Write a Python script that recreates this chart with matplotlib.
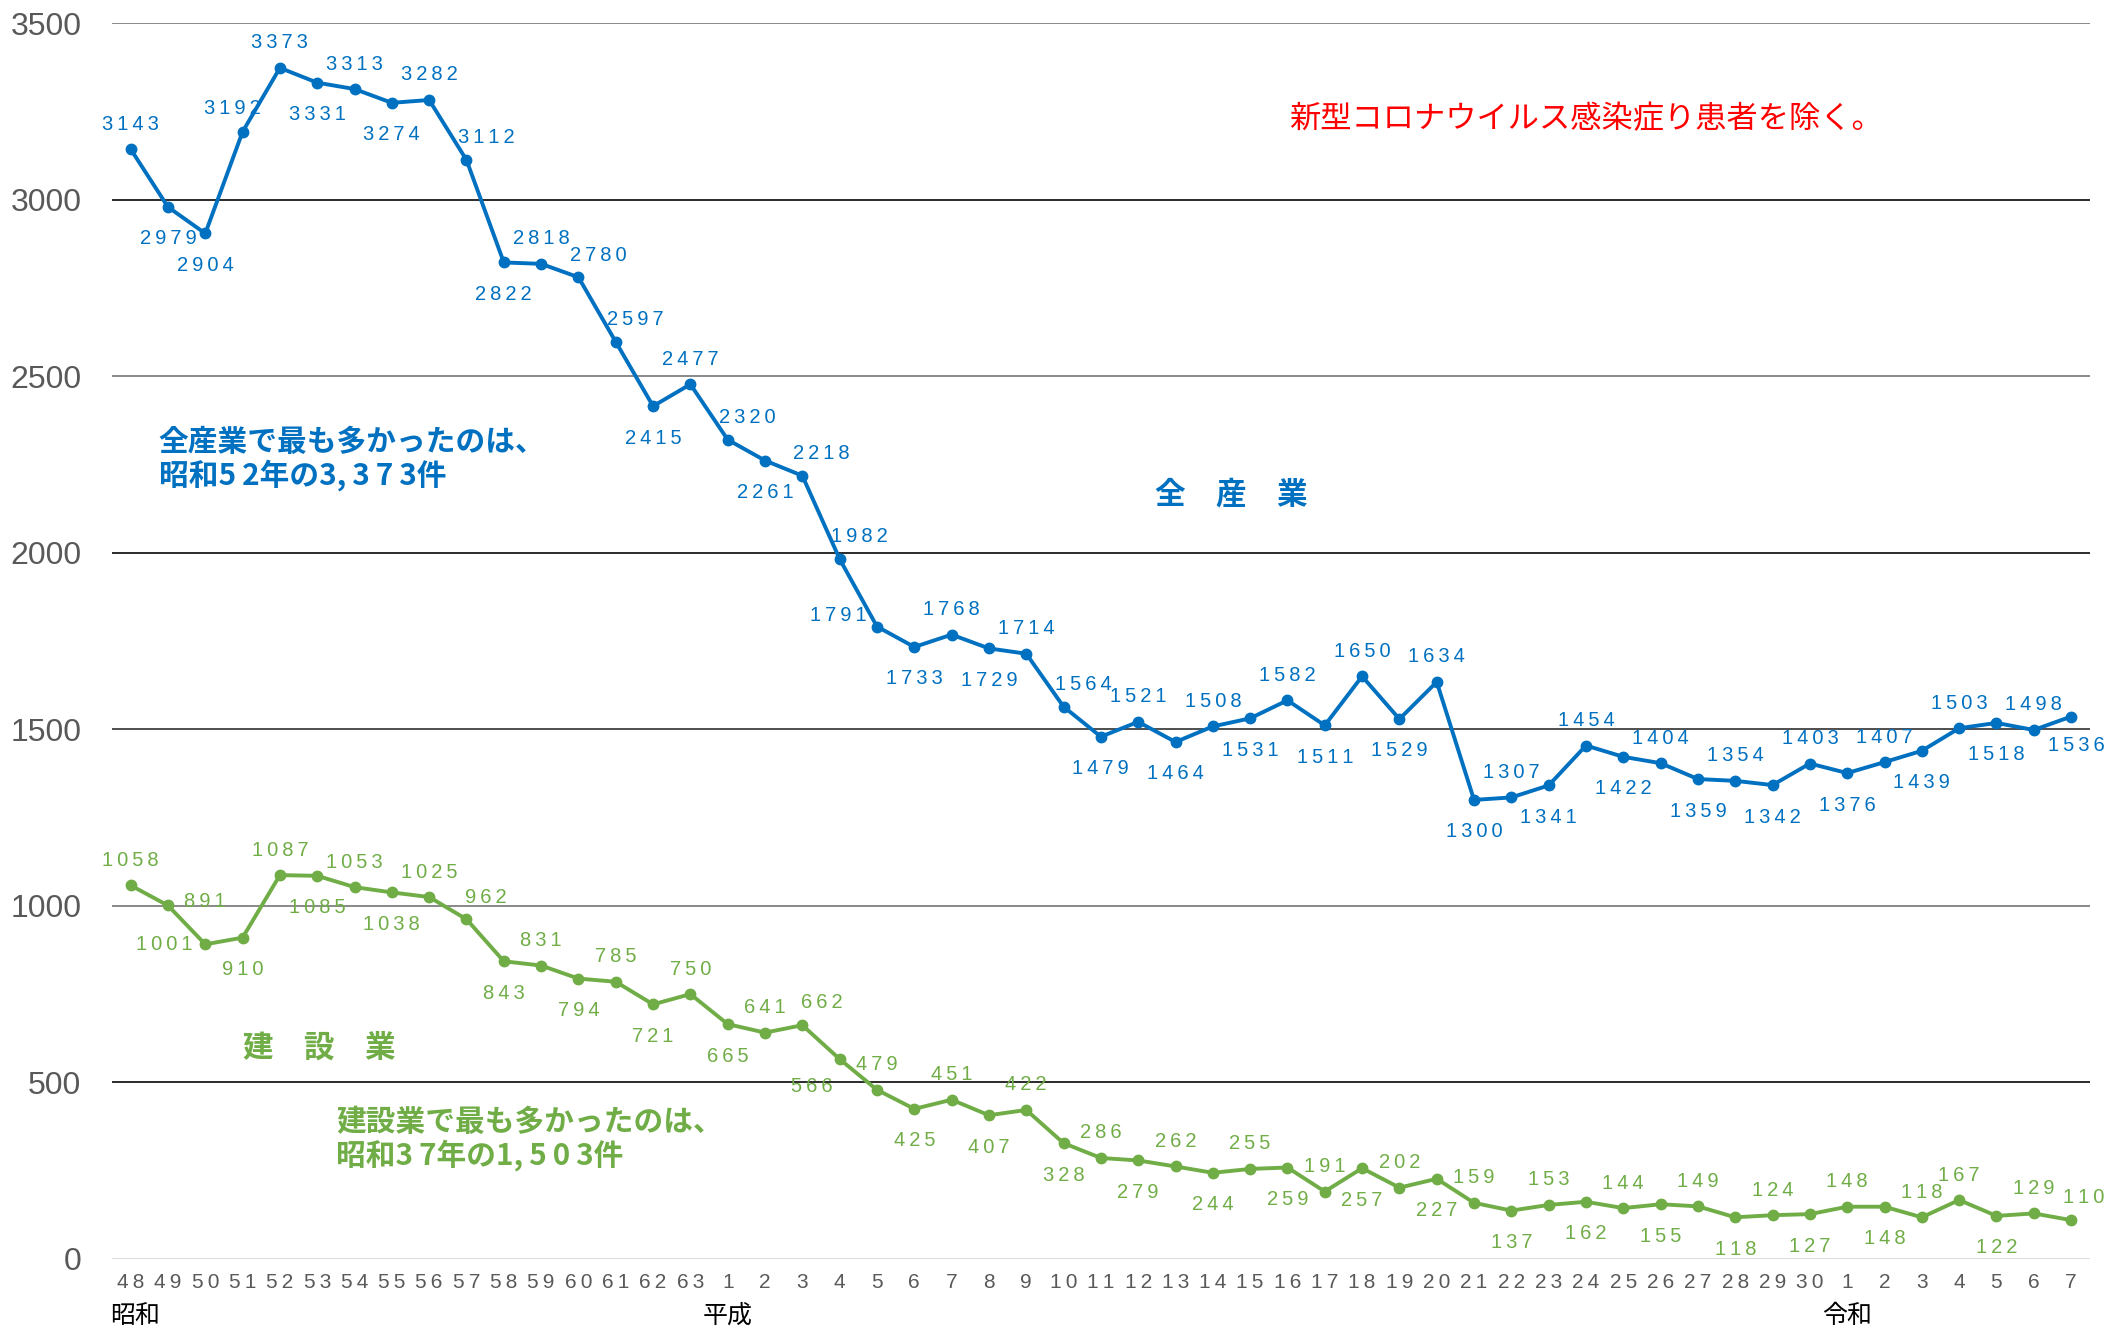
import matplotlib
matplotlib.use("Agg")
import matplotlib.pyplot as plt

# --- data ---
years = (["48", "49", "50", "51", "52", "53", "54", "55", "56", "57", "58", "59", "60", "61", "62", "63"]
         + [str(i) for i in range(1, 31)]
         + [str(i) for i in range(1, 8)])

all_industry = [3143, 2979, 2904, 3192, 3373, 3331, 3313, 3274, 3282, 3112,
                2822, 2818, 2780, 2597, 2415, 2477, 2320, 2261, 2218, 1982,
                1791, 1733, 1768, 1729, 1714, 1564, 1479, 1521, 1464, 1508,
                1531, 1582, 1511, 1650, 1529, 1634, 1300, 1307, 1341, 1454,
                1422, 1404, 1359, 1354, 1342, 1403, 1376, 1407, 1439, 1503,
                1518, 1498, 1536]

construction = [1058, 1001, 891, 910, 1087, 1085, 1053, 1038, 1025, 962,
                843, 831, 794, 785, 721, 750, 665, 641, 662, 566,
                479, 425, 451, 407, 422, 328, 286, 279, 262, 244,
                255, 259, 191, 257, 202, 227, 159, 137, 153, 162,
                144, 155, 149, 118, 124, 127, 148, 148, 118, 167,
                122, 129, 110]

eras = ["昭和", "平成", "令和"]
era_start = [0, 16, 46]

# label placement codes (a=above, b=below, r=right, l=left)
blue_pos = ["a", "b", "b", "al", "a", "b", "a", "b", "a", "ar",
            "b", "a", "ar", "ar", "b", "a", "ar", "b", "ar", "ar",
            "l", "b", "a", "b", "a", "ar", "b", "a", "b", "a",
            "b", "a", "b", "a", "b", "a", "b", "a", "b", "a",
            "b", "a", "b", "a", "b", "a", "b", "a", "b", "a",
            "b", "a", "br"]
green_pos = ["a", "B", "A", "b", "a", "b", "a", "b", "a", "ar",
             "b", "a", "b", "a", "b", "a", "b", "a", "ar", "bl",
             "a", "b", "a", "b", "a", "b", "a", "b", "a", "b",
             "a", "b", "a", "b", "a", "b", "a", "b", "a", "b",
             "a", "b", "a", "b", "a", "b", "a", "b", "a", "a",
             "b", "a", "rr"]

BLUE = "#0070C0"
GREEN = "#70AD47"
JP = ["Noto Sans CJK JP", "DejaVu Sans"]
NUM = ["Liberation Sans", "DejaVu Sans"]
NARROW = ["Liberation Sans Narrow", "Liberation Sans", "DejaVu Sans"]

OFFS = {"a": (0, 18), "A": (0, 31), "b": (0, -23), "B": (-3, -28),
        "ar": (14, 16), "al": (-7, 17), "br": (4, -21), "bl": (-20, -20),
        "l": (-28, 8), "rr": (9, 16)}


def spaced(s):
    return "\u2009".join(s)


fig = plt.figure(figsize=(21.13, 13.30), dpi=100)
ax = fig.add_axes([0.053, 0.0534, 0.936, 0.9293])

x = list(range(len(years)))

# gridlines
grid_cols = {0: "#d9d9d9", 500: "#1a1a1a", 1000: "#808080", 1500: "#404040",
             2000: "#1a1a1a", 2500: "#808080", 3000: "#1a1a1a", 3500: "#808080"}
for yv, c in grid_cols.items():
    ax.axhline(yv, color=c, lw=1.3, zorder=0)

ax.plot(x, all_industry, color=BLUE, lw=2.8, marker="o", ms=7.5, zorder=3)
ax.plot(x, construction, color=GREEN, lw=2.8, marker="o", ms=7.5, zorder=3)

for xs, vals, pos, col in [(x, all_industry, blue_pos, BLUE),
                          (x, construction, green_pos, GREEN)]:
    for xi, v, p in zip(xs, vals, pos):
        ax.annotate(spaced(str(v)), (xi, v), xytext=OFFS[p],
                    textcoords="offset points", ha="center", va="center",
                    fontsize=14.5, color=col, family=NUM, zorder=4)

ax.set_xlim(-0.5, len(years) - 0.5)
ax.set_ylim(0, 3500)
ax.set_yticks(range(0, 3501, 500))
ax.set_yticklabels([str(v) for v in range(0, 3501, 500)], family=NARROW,
                   fontsize=23, color="#595959")
ax.set_xticks(x)
ax.set_xticklabels([spaced(y) for y in years], family=NUM, fontsize=15,
                   color="#595959")
ax.tick_params(axis="y", length=0, pad=22)
ax.tick_params(axis="x", length=0, pad=10)
for s in ax.spines.values():
    s.set_visible(False)

# era labels under the axis
for name, xs in zip(eras, era_start):
    ha = "left" if xs == 0 else "center"
    xp = -0.55 if xs == 0 else xs
    ax.text(xp, -0.046, name, transform=ax.get_xaxis_transform(), ha=ha,
            va="center", fontsize=18, family=JP, color="black")

# annotations
T = "\u2009"
ax.text(39, 3229, "新型コロナウイルス感染症り患者を除く。", ha="center", va="center",
        fontsize=22.5, color="#FF0000", family=JP)
ax.text(0.75, 2265, "全産業で最も多かったのは、\n昭和5" + T + "2年の3," + T + "3" + T + "7" + T + "3件",
        ha="left", va="center", fontsize=21.4, color=BLUE, family=JP,
        weight="bold", linespacing=1.1)
ax.text(29.5, 2164, "全　産　業", ha="center", va="center", fontsize=22,
        color=BLUE, family=JP, weight="bold")
ax.text(5.05, 599, "建　設　業", ha="center", va="center", fontsize=22,
        color=GREEN, family=JP, weight="bold")
ax.text(5.5, 340, "建設業で最も多かったのは、\n昭和3" + T + "7年の1," + T + "5" + T + "0" + T + "3件",
        ha="left", va="center", fontsize=21.4, color=GREEN, family=JP,
        weight="bold", linespacing=1.1)

fig.savefig("out.png", dpi=100, facecolor="white")
